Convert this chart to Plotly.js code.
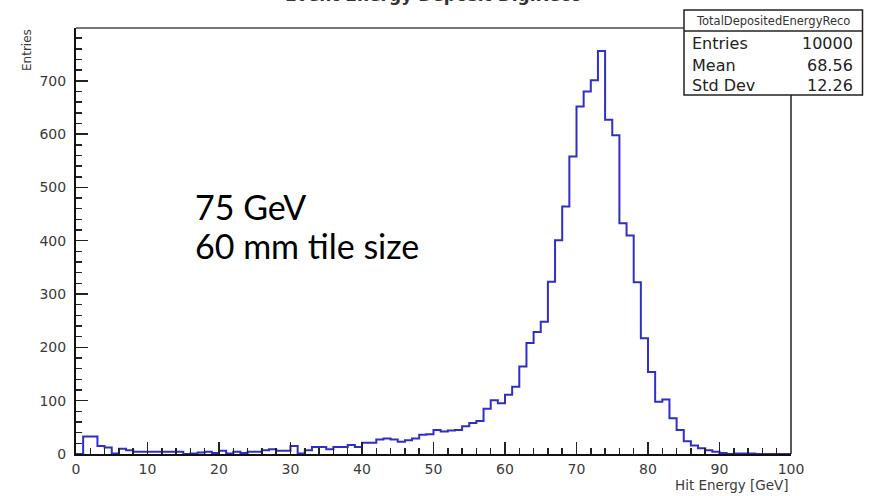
<!DOCTYPE html>
<html>
<head>
<meta charset="utf-8">
<script src="https://cdn.plot.ly/plotly-3.0.1.min.js"></script>
<style>
  html, body { margin: 0; padding: 0; background: #ffffff; }
  #chart { width: 869px; height: 496px; }
</style>
</head>
<body>
<div id="chart"></div>
<script>
// ---- data ----
const binLow = 0;        // GeV
const binWidth = 1;      // GeV
const counts = [
  0, 33, 33, 15, 12, 1, 10, 7, 4, 4,
  4, 4, 4, 4, 4, 0, 1, 3, 4, 2,
  6, 1, 4, 2, 4, 4, 7, 9, 6, 6,
  15, 1, 7, 13, 13, 9, 13, 13, 17, 13,
  21, 21, 27, 29, 27, 23, 26, 29, 36, 37,
  45, 42, 44, 45, 52, 58, 62, 85, 101, 95,
  111, 126, 164, 208, 229, 248, 323, 401, 464, 558,
  652, 680, 701, 756, 627, 598, 433, 410, 322, 217,
  154, 98, 102, 67, 45, 24, 16, 11, 7, 4,
  2, 0, 1, 1, 1, 0, 0, 0, 0, 0
];
const histName = "TotalDepositedEnergyReco";
const statLabels = ["Entries", "Mean", "Std Dev"];
const statValues = ["10000", "68.56", "12.26"];
const titleText = "Event Energy Deposit DigiReco";
const xTitle = "Hit Energy [GeV]";
const yTitle = "Entries";
const noteLines = ["75 GeV", "60 mm tile size"];

// ---- build step outline from bin edges ----
const xs = [binLow], ys = [0];
for (let i = 0; i < counts.length; i++) {
  xs.push(binLow + i * binWidth);
  ys.push(counts[i]);
}
xs.push(binLow + counts.length * binWidth);
ys.push(counts[counts.length - 1]);
xs.push(binLow + counts.length * binWidth);
ys.push(0);

// pixel helpers for the paper (plot area: x 76..791, y 28..454)
const L = 76, R = 791, T = 28, B = 454;
const px = v => (v - L) / (R - L);
const py = v => (B - v) / (B - T);

const trace = {
  type: "scatter", mode: "lines",
  x: xs, y: ys,
  line: { shape: "hv", color: "#2f2fc8", width: 2 },
  hoverinfo: "skip"
};

const tickFont = { family: "DejaVu Sans", size: 14, color: "#3a3a3a" };

const boxX0 = px(684), boxX1 = px(862.5), boxY0 = py(95), boxY1 = py(10), sepY = py(31);

const annotations = [
  { text: titleText, xref: "paper", yref: "paper", x: 0.5, y: py(7), xanchor: "center", yanchor: "bottom",
    showarrow: false, font: { family: "DejaVu Sans", size: 17, color: "#333", weight: "bold" } },
  { text: yTitle, xref: "paper", yref: "paper", x: px(27), y: py(27), xanchor: "center", yanchor: "top",
    textangle: -90, showarrow: false, font: { family: "DejaVu Sans", size: 12, color: "#3a3a3a" } },
  { text: xTitle, xref: "paper", yref: "paper", x: 1, y: py(485), xanchor: "right", yanchor: "middle",
    showarrow: false, font: { family: "DejaVu Sans", size: 13.5, color: "#3a3a3a" } },
  { text: noteLines[0], xref: "paper", yref: "paper", x: px(193), y: py(206), xanchor: "left", yanchor: "middle",
    showarrow: false, font: { family: "Lato", size: 34, color: "#000" } },
  { text: noteLines[1], xref: "paper", yref: "paper", x: px(193), y: py(245), xanchor: "left", yanchor: "middle",
    showarrow: false, font: { family: "Lato", size: 34, color: "#000" } },
  { text: histName, xref: "paper", yref: "paper", x: (boxX0 + boxX1) / 2, y: py(21), xanchor: "center", yanchor: "middle",
    showarrow: false, font: { family: "DejaVu Sans", size: 11.5, color: "#333" } }
];
const rowY = [44, 66, 86];
statLabels.forEach((lab, i) => {
  annotations.push({ text: lab, xref: "paper", yref: "paper", x: px(690), y: py(rowY[i]), xanchor: "left", yanchor: "middle",
    showarrow: false, font: { family: "DejaVu Sans", size: 16, color: "#222" } });
  annotations.push({ text: statValues[i], xref: "paper", yref: "paper", x: px(855), y: py(rowY[i]), xanchor: "right", yanchor: "middle",
    showarrow: false, font: { family: "DejaVu Sans", size: 16, color: "#222" } });
});

const shapes = [
  { type: "line", xref: "paper", yref: "paper", x0: 0, x1: boxX0, y0: 1, y1: 1, line: { color: "#777", width: 2 }, layer: "above" },
  { type: "line", xref: "paper", yref: "paper", x0: 1, x1: 1, y0: 0, y1: boxY0, line: { color: "#222", width: 1.5 }, layer: "above" },
  { type: "rect", xref: "paper", yref: "paper", x0: boxX0, x1: boxX1, y0: boxY0, y1: boxY1,
    line: { color: "#222", width: 1.5 }, fillcolor: "#fff", layer: "above" },
  { type: "line", xref: "paper", yref: "paper", x0: boxX0, x1: boxX1, y0: sepY, y1: sepY, line: { color: "#222", width: 1.5 }, layer: "above" }
];

const layout = {
  width: 869, height: 496,
  margin: { l: L, r: 869 - R, t: T, b: 496 - B, pad: 0 },
  paper_bgcolor: "#fff", plot_bgcolor: "#fff",
  showlegend: false,
  xaxis: {
    range: [0, 100], dtick: 10, tick0: 0,
    ticks: "inside", ticklen: 12, tickwidth: 1.5, tickcolor: "#222",
    minor: { dtick: 2, ticks: "inside", ticklen: 6, tickwidth: 1.5, tickcolor: "#222" },
    showline: true, linecolor: "#111", linewidth: 2,
    showgrid: false, zeroline: false, tickfont: tickFont, ticklabelstandoff: 1
  },
  yaxis: {
    range: [0, 799], dtick: 100, tick0: 0,
    ticks: "inside", ticklen: 12, tickwidth: 1.5, tickcolor: "#222",
    minor: { dtick: 20, ticks: "inside", ticklen: 6, tickwidth: 1.5, tickcolor: "#222" },
    showline: true, linecolor: "#111", linewidth: 2,
    showgrid: false, zeroline: false, tickfont: tickFont, ticklabelstandoff: 5
  },
  annotations: annotations,
  shapes: shapes
};

Plotly.newPlot("chart", [trace], layout, { staticPlot: true, displayModeBar: false });
</script>
</body>
</html>
